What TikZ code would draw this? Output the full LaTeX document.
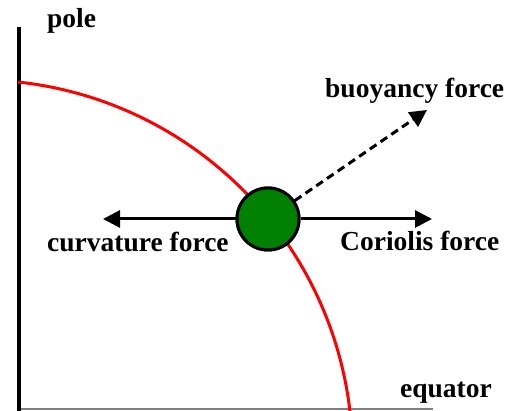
\documentclass[tikz,border=0pt]{standalone}
\usepackage{fontspec}
\setmainfont{Liberation Serif}
\usetikzlibrary{arrows.meta}
\definecolor{ballgreen}{RGB}{0,128,0}
\begin{document}
\begin{tikzpicture}[x=1pt,y=1pt,
  lbl/.style={font=\bfseries\fontsize{27.5}{32}\selectfont, inner sep=0pt, anchor=base west},
  force/.style={line width=3pt, -{Triangle[length=17pt,width=17pt]}},
  ball/.style={circle, fill=ballgreen, draw=black, line width=3pt, minimum size=62pt, inner sep=0pt}
]
\useasboundingbox (0,0) rectangle (512,411);
\draw[gray, line width=1.5pt] (18,2) -- (433,2);
\draw[line width=4pt] (19,384) -- (19,0);
\draw[red, line width=3pt] (18,329) arc[start angle=83.8, end angle=6.7, radius=375];
\node[ball] (m) at (268,192) {};
\coordinate (cl) at (103,192);
\coordinate (cr) at (432,192);
\coordinate (cb) at (427,301);
\draw[force] (m) -- (cl);
\draw[force] (m) -- (cr);
\draw[force, dash pattern=on 8pt off 5pt] (m) -- (cb);
\node[ball] at (m) {};
\node[lbl] (pole) at (47,383) {pole};
\node[lbl] (buoy) at (325,313) {buoyancy force};
\node[lbl] (eq) at (400,13) {equator};
\node[lbl] (curv) at (47,159) {curvature force};
\node[lbl] (cor) at (340,160) {Coriolis force};
\end{tikzpicture}
\end{document}
